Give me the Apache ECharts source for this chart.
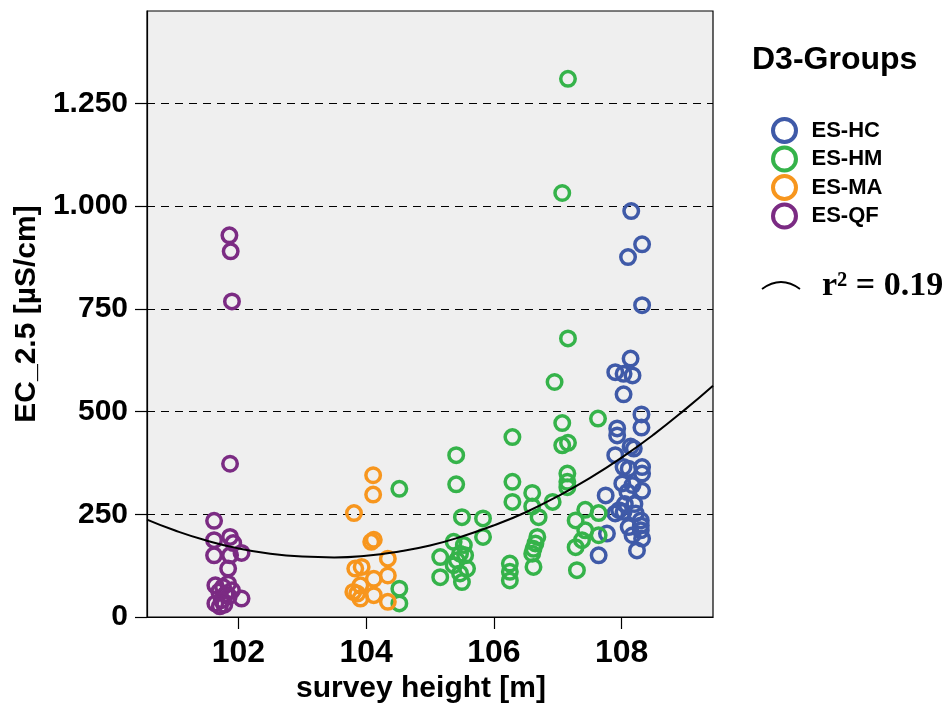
<!DOCTYPE html>
<html>
<head>
<meta charset="utf-8">
<script src="https://cdn.jsdelivr.net/npm/echarts@6/dist/echarts.min.js"></script>
<style>html,body{margin:0;padding:0;background:#fff}#c{width:950px;height:707px}</style>
</head>
<body>
<div id="c"></div>
<script>
const groups = ['ES-HC', 'ES-HM', 'ES-MA', 'ES-QF'];
const groupColors = ['#3F5AA8', '#35B34A', '#F7961E', '#7B2B83'];
const xTicks = [102, 104, 106, 108];
const yTicks = [0, 250, 500, 750, 1000, 1250];

const hcPoints = [
  [108.15, 988], [108.32, 907], [108.10, 876], [108.32, 759], [108.14, 629], [107.90, 596],
  [108.03, 592], [108.17, 588], [108.03, 542], [108.31, 493], [108.31, 461], [107.93, 459],
  [107.93, 442], [108.14, 415], [108.19, 410], [107.90, 394], [108.03, 365], [108.32, 365],
  [108.11, 361], [108.32, 349], [108.01, 325], [108.17, 321], [108.09, 304], [108.32, 307],
  [107.75, 296], [108.05, 275], [108.20, 275], [107.96, 260], [108.03, 256], [107.90, 252],
  [108.22, 252], [108.30, 235], [108.30, 223], [108.11, 219], [108.30, 211], [107.77, 203],
  [108.17, 199], [108.32, 191], [108.24, 162], [107.64, 150]
];
const hmPoints = [
  [107.16, 1310], [107.07, 1032], [107.16, 678], [106.95, 572], [107.63, 483], [107.07, 472],
  [106.29, 438], [107.16, 424], [107.07, 418], [105.41, 394], [107.15, 349], [106.29, 329],
  [107.15, 329], [105.41, 323], [107.15, 316], [104.52, 312], [106.60, 302], [106.29, 280],
  [106.92, 280], [106.60, 269], [107.43, 261], [107.64, 253], [105.50, 243], [106.70, 243],
  [105.83, 240], [107.28, 235], [107.43, 211], [107.64, 199], [105.83, 195], [106.68, 195],
  [107.38, 187], [105.37, 183], [106.65, 179], [105.53, 175], [107.28, 170], [106.62, 166],
  [105.47, 154], [106.60, 154], [105.55, 150], [105.16, 146], [105.42, 138], [106.25, 130],
  [105.37, 126], [106.62, 122], [105.58, 118], [107.30, 114], [106.25, 110], [105.47, 106],
  [105.16, 97], [106.25, 89], [105.50, 85], [104.52, 69], [104.52, 33]
];
const maPoints = [
  [104.11, 345], [104.11, 298], [103.81, 253], [104.12, 188], [104.08, 183], [104.34, 142],
  [103.93, 122], [103.83, 118], [104.34, 101], [104.12, 93], [103.91, 77], [103.80, 61],
  [103.86, 57], [104.12, 53], [103.91, 45], [104.34, 37]
];
const qfPoints = [
  [101.86, 929], [101.88, 890], [101.90, 768], [101.87, 373], [101.62, 234], [101.87, 195],
  [101.62, 187], [101.92, 180], [102.05, 156], [101.62, 150], [101.87, 150], [101.84, 118],
  [101.84, 81], [101.64, 77], [101.76, 73], [101.90, 65], [101.70, 62], [101.80, 55],
  [101.85, 50], [102.05, 45], [101.74, 41], [101.64, 33], [101.78, 30], [101.71, 26]
];
const fitX = [100.57, 101, 101.5, 102, 102.5, 103, 103.5, 104, 104.5, 105, 105.5, 106, 106.5, 107, 107.5, 108, 108.5, 109, 109.43];
const fitY = [237, 211, 186, 167, 154, 147, 145, 149, 159, 174, 196, 223, 255, 294, 338, 388, 444, 506, 563];

const FONT = '"Liberation Sans", Arial, sans-serif';
const chart = echarts.init(document.getElementById('c'), null, {renderer: 'canvas'});
const groupData = [hcPoints, hmPoints, maPoints, qfPoints];

const series = groups.map((g, i) => ({
  name: g,
  type: 'scatter',
  data: groupData[i],
  symbol: 'circle',
  symbolSize: 14.5,
  itemStyle: {color: 'rgba(0,0,0,0)', borderColor: groupColors[i], borderWidth: 3.5, opacity: 1},
  emphasis: {disabled: true},
  animation: false
}));
series.push({
  name: 'fit',
  type: 'line',
  data: fitX.map((x, i) => [x, fitY[i]]),
  symbol: 'none',
  smooth: true,
  lineStyle: {color: '#000', width: 2},
  emphasis: {disabled: true},
  animation: false,
  z: 5
});

chart.setOption({
  animation: false,
  backgroundColor: '#fff',
  grid: {
    left: 147, top: 11, right: 237, bottom: 90,
    show: true, backgroundColor: '#EFEFEF', borderColor: '#000', borderWidth: 1.2,
    containLabel: false, outerBoundsMode: 'none'
  },
  title: {
    text: 'D3-Groups', left: 752, top: 44, padding: 0,
    textStyle: {fontFamily: FONT, fontSize: 32, fontWeight: 'bold', color: '#000'}
  },
  legend: {
    data: groups, orient: 'vertical', left: 771, top: 117, padding: 0,
    itemWidth: 44, itemHeight: 23, itemGap: 1.5, icon: 'circle',
    itemStyle: {borderWidth: 4, opacity: 1},
    textStyle: {fontFamily: FONT, fontSize: 22, fontWeight: 'bold', color: '#000', lineHeight: 23},
    selectedMode: false
  },
  xAxis: {
    type: 'value', min: 100.57, max: 109.43,
    name: 'survey height [m]', nameLocation: 'middle', nameGap: 57,
    nameTextStyle: {fontFamily: FONT, fontSize: 30, fontWeight: 'bold', color: '#000', padding: [0, 18, 0, 0]},
    axisLine: {show: true, lineStyle: {color: '#000', width: 1.2}},
    axisTick: {show: true, inside: false, length: 12, lineStyle: {color: '#000', width: 1.2}, customValues: xTicks},
    axisLabel: {fontFamily: FONT, fontSize: 32, fontWeight: 'bold', color: '#000', margin: 20, customValues: xTicks},
    splitLine: {show: false}
  },
  yAxis: {
    type: 'value', min: 0, max: 1475, interval: 250,
    name: 'EC_2.5 [µS/cm]', nameLocation: 'middle', nameGap: 100,
    nameTextStyle: {fontFamily: FONT, fontSize: 30, fontWeight: 'bold', color: '#000'},
    axisLine: {show: true, lineStyle: {color: '#000', width: 1.2}},
    axisTick: {show: true, inside: false, length: 12, lineStyle: {color: '#000', width: 1.2}, customValues: yTicks},
    axisLabel: {
      fontFamily: FONT, fontSize: 30, fontWeight: 'bold', color: '#000', margin: 19, customValues: yTicks,
      formatter: v => String(v).replace(/\B(?=(\d{3})+(?!\d))/g, '.')
    },
    splitLine: {show: true, lineStyle: {color: '#000', width: 1.2, type: [8, 6]}}
  },
  graphic: [
    {
      type: 'bezierCurve',
      shape: {x1: 762, y1: 289, x2: 800, y2: 289, cpx1: 781, cpy1: 275},
      style: {stroke: '#000', lineWidth: 1.8, fill: null},
      silent: true
    },
    {
      type: 'text', left: 822, top: 269,
      style: {text: 'r² = 0.19', font: 'bold 34px "Liberation Serif", "Times New Roman", serif', fill: '#000'},
      silent: true
    }
  ],
  series: series
});
</script>
</body>
</html>
